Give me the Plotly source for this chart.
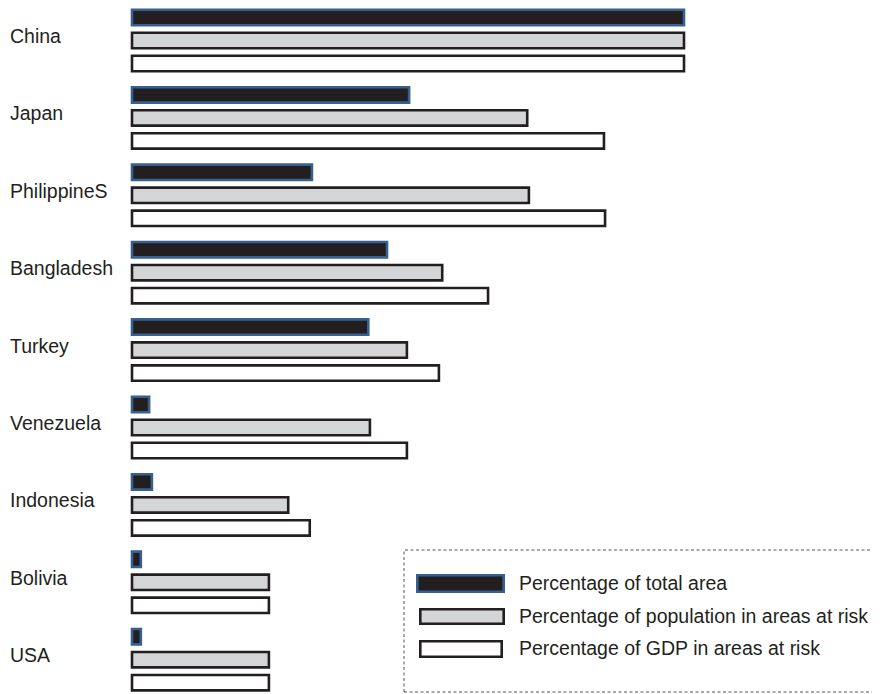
import plotly.graph_objects as go

countries = ["China", "Japan", "PhilippineS", "Bangladesh", "Turkey",
             "Venezuela", "Indonesia", "Bolivia", "USA"]
series_names = ["Percentage of total area",
                "Percentage of population in areas at risk",
                "Percentage of GDP in areas at risk"]
# values indexed so that China = 100
total_area = [100, 50.2, 32.6, 46.2, 42.8, 3.1, 3.6, 1.6, 1.6]
population = [100, 71.6, 71.9, 56.2, 49.8, 43.1, 28.3, 24.8, 24.8]
gdp = [100, 85.5, 85.7, 64.5, 55.6, 49.8, 32.2, 24.8, 24.8]

OFF = 8           # browser default body margin
W, H = 880 - OFF, 694 - OFF
X0 = 132 - OFF    # pixel where bars start (figure coords)
PX_PER_UNIT = 5.52

ink = "#231f20"
blue = "#35608f"
fills = ["#231f20", "#d4d5d6", "#ffffff"]
strokes = [blue, ink, ink]
FONT = "Liberation Sans, Arial, Helvetica, sans-serif"
FS = 19.5

fig = go.Figure()
for name, vals, fc, lc in zip(series_names, [total_area, population, gdp], fills, strokes):
    fig.add_trace(go.Bar(
        y=countries, x=vals, name=name, orientation="h",
        marker=dict(color=fc, line=dict(color=lc, width=2.6)),
        showlegend=False, hoverinfo="x+name",
    ))

slot = 77.4
first_center = 40.5 - OFF
top = -first_center / slot
bottom = top + H / slot

fig.update_layout(
    width=W, height=H,
    margin=dict(l=0, r=0, t=0, b=0),
    paper_bgcolor="white", plot_bgcolor="white",
    barmode="group", bargap=0.108, bargroupgap=0.33,
    xaxis=dict(range=[-X0 / PX_PER_UNIT, (W - X0) / PX_PER_UNIT],
               visible=False, fixedrange=True),
    yaxis=dict(type="category", categoryorder="array", categoryarray=countries,
               range=[bottom, top], visible=False, fixedrange=True),
    font=dict(family=FONT, color=ink, size=FS),
)

# country labels
for c in countries:
    fig.add_annotation(x=(8 - OFF) / W, xref="paper", y=c, yref="y", text=c,
                       showarrow=False, xanchor="left", yanchor="middle",
                       yshift=4.5, font=dict(size=FS, color=ink, family=FONT))

def px(xp):
    return (xp - OFF) / W

def py(yp):
    return 1 - (yp - OFF) / H

# legend box (dashed)
fig.add_shape(type="rect", xref="paper", yref="paper",
              x0=px(404), x1=px(874), y0=py(692), y1=py(550),
              line=dict(color="#555555", width=1, dash="3px,2.5px"),
              fillcolor="rgba(0,0,0,0)")

leg_rows = [(574, 593, 416, 505), (608, 625, 419, 505), (640, 658, 419, 503)]
for (t, b, l, r), name, fc, lc in zip(leg_rows, series_names, fills, strokes):
    fig.add_shape(type="rect", xref="paper", yref="paper",
                  x0=px(l + 1.3), x1=px(r - 1.3), y0=py(b - 1.3), y1=py(t + 1.3),
                  line=dict(color=lc, width=2.6), fillcolor=fc)
    fig.add_annotation(x=px(517), xref="paper", y=py((t + b) / 2 - 1), yref="paper",
                       text=name, showarrow=False, xanchor="left", yanchor="middle",
                       font=dict(size=FS, color=ink, family=FONT))

fig.write_html("out.html")
